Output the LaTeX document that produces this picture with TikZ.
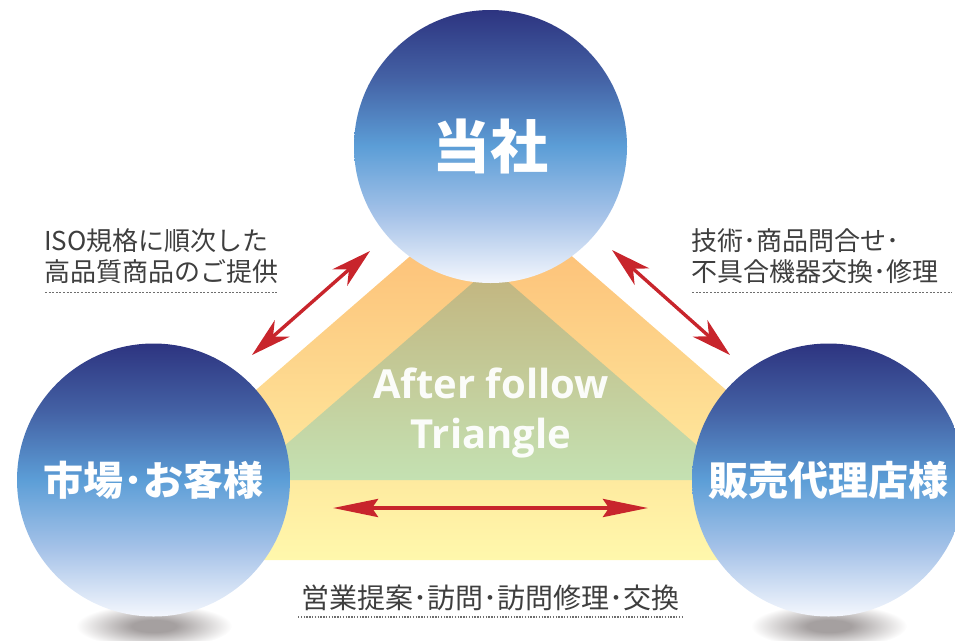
\documentclass[tikz,border=0pt]{standalone}
\usepackage{fontspec}
\setmainfont{Open Sans}
\newfontfamily\cjk{Noto Sans CJK JP}
\usetikzlibrary{arrows.meta}

\definecolor{bTop}{RGB}{45,52,128}
\definecolor{bUp}{RGB}{68,98,165}
\definecolor{bMid}{RGB}{92,158,215}
\definecolor{bLow}{RGB}{165,194,232}
\definecolor{bBot}{RGB}{244,247,253}
\definecolor{oTop}{RGB}{252,183,111}
\definecolor{oBot}{RGB}{255,248,172}
\definecolor{gTop}{RGB}{195,180,126}
\definecolor{gBot}{RGB}{196,225,178}
\definecolor{arrowred}{RGB}{200,37,44}
\definecolor{shc}{RGB}{165,160,160}
\definecolor{txtgray}{RGB}{62,62,62}
\definecolor{dotgray}{RGB}{110,110,110}

\pgfdeclareverticalshading{ballshade}{100bp}{color(0bp)=(bBot); color(25bp)=(bBot); color(37.5bp)=(bLow); color(50bp)=(bMid); color(62.5bp)=(bUp); color(75bp)=(bTop); color(100bp)=(bTop)}
\pgfdeclareverticalshading{orangeshade}{100bp}{color(0bp)=(oBot); color(25bp)=(oBot); color(75bp)=(oTop); color(100bp)=(oTop)}
\pgfdeclareverticalshading{greenshade}{100bp}{color(0bp)=(gBot); color(25bp)=(gBot); color(75bp)=(gTop); color(100bp)=(gTop)}
\pgfdeclareradialshading{shadowshade}{\pgfpoint{0bp}{0bp}}{color(0bp)=(shc); color(7bp)=(shc); color(25bp)=(white); color(50bp)=(white)}

\tikzset{
  ball/.style={circle, minimum size=273pt, inner sep=0pt, shading=ballshade, text=white},
  lbl/.style={font=\cjk\fontsize{26}{26}\selectfont, text=txtgray, inner sep=0pt},
  dotline/.style={draw=dotgray, line width=0.8pt, dash pattern=on 2pt off 1.6pt},
  redarrow/.style={draw=arrowred, line width=3.4pt, {Stealth[length=40pt,width=22pt,inset=12pt]}-{Stealth[length=40pt,width=22pt,inset=12pt]}},
  harrow/.style={draw=arrowred, line width=4pt, {Stealth[length=45pt,width=18pt,inset=6pt]}-{Stealth[length=45pt,width=18pt,inset=6pt]}},
  shadowblob/.style={shading=shadowshade}
}

\begin{document}
\begin{tikzpicture}[x=1pt,y=-1pt]
\useasboundingbox (0,0) rectangle (955,640);
\clip (0,0) rectangle (955,640);

% shadows
\path[shadowblob] (154,626) ellipse [x radius=78pt, y radius=22pt];
\path[shadowblob] (829,626) ellipse [x radius=78pt, y radius=22pt];

% big triangle band
\path[shading=orangeshade] (491,186) -- (922,560) -- (60,560) -- cycle;
% inner triangle
\path[shading=greenshade] (491,267) -- (737,480) -- (245,480) -- cycle;

% circles
\node[ball, font=\cjk\bfseries\fontsize{58}{58}\selectfont] (top) at (490.5,146.5) {当社};
\node[ball, font=\cjk\bfseries\fontsize{40}{40}\selectfont] (left) at (153.5,480) {市場･お客様};
\node[ball, font=\cjk\bfseries\fontsize{40}{40}\selectfont] (right) at (828.5,480) {販売代理店様};

% center text
\node[font=\bfseries\fontsize{40}{40}\selectfont, text=white, text opacity=0.95, anchor=base, inner sep=0pt] (t1) at (491,398) {After follow};
\node[font=\bfseries\fontsize{40}{40}\selectfont, text=white, text opacity=0.95, anchor=base, inner sep=0pt] (t2) at (491,448) {Triangle};

% arrow end points
\coordinate (la) at (370,251);
\coordinate (lb) at (252,355);
\coordinate (ra) at (612,250);
\coordinate (rb) at (730,355);
\coordinate (ha) at (333,508);
\coordinate (hb) at (648,508);
\draw[redarrow] (la) -- (lb);
\draw[redarrow] (ra) -- (rb);
\draw[harrow] (ha) -- (hb);

% labels
\node[lbl, anchor=base west] (l1) at (44,250) {ISO規格に順次した};
\node[lbl, anchor=base west] (l2) at (44,281) {高品質商品のご提供};
\draw[dotline] (45,292) -- (278,292);

\node[lbl, anchor=base west] (r1) at (691,250) {技術･商品問合せ･};
\node[lbl, anchor=base west] (r2) at (691,281) {不具合機器交換･修理};
\draw[dotline] (692,292) -- (952,292);

\node[lbl, font=\cjk\fontsize{28}{28}\selectfont, anchor=base] (b1) at (490.5,608) {営業提案･訪問･訪問修理･交換};
\draw[dotline, line width=1.2pt, dash pattern=on 1.4pt off 1.4pt] (298,617) -- (682,617);
\end{tikzpicture}
\end{document}
